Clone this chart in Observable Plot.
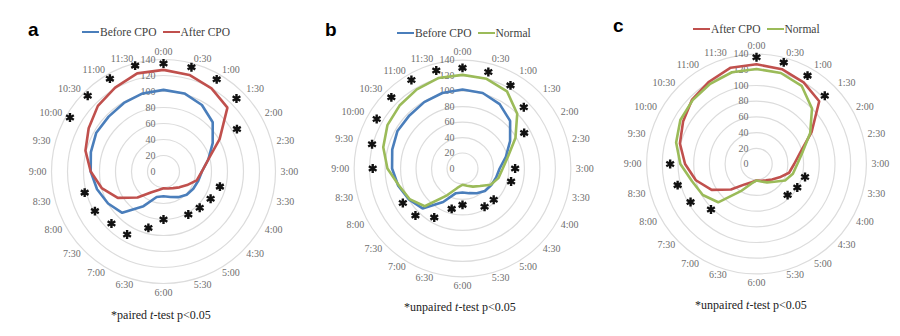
<!DOCTYPE html>
<html><head><meta charset="utf-8">
<script src="https://cdn.jsdelivr.net/npm/d3@7"></script>
<script src="https://cdn.jsdelivr.net/npm/@observablehq/plot@0.6"></script>
<style>
html,body{margin:0;padding:0;background:#fff;}
#root{position:relative;width:900px;height:336px;overflow:hidden;background:#fff;}
.panel{position:absolute;top:0;width:300px;height:336px;}
.panel svg, .panel svg text{font-family:"Liberation Serif","DejaVu Serif",serif !important;}
.letter{position:absolute;font-family:"Liberation Sans","DejaVu Sans",sans-serif;font-weight:bold;font-size:19px;color:#000;line-height:1;}
.legend{position:absolute;font-family:"Liberation Serif","DejaVu Serif",serif;font-size:11.5px;color:#404040;display:flex;align-items:center;white-space:nowrap;transform:translateY(-50%);}
.sw{display:inline-block;width:17px;height:0;border-top:2.5px solid;margin-right:1px;}
.item{display:flex;align-items:center;margin-right:6px;}
.caption{position:absolute;font-family:"Liberation Serif","DejaVu Serif",serif;font-size:12px;color:#222;transform:translate(-50%,-50%);white-space:nowrap;}
</style></head><body><div id="root"></div>
<script>
// ---- data ----
const times = ["0:00","0:30","1:00","1:30","2:00","2:30","3:00","3:30","4:00","4:30","5:00","5:30",
               "6:00","6:30","7:00","7:30","8:00","8:30","9:00","9:30","10:00","10:30","11:00","11:30"];
const beforeCPO = [102,101,96,87,71,58,48,45,43,41,37,33,31,33,50,73,80,86,91,94,97,97,99,101];
const afterCPO  = [127,125,120,113,81,58,48,43,34,28,24,22,21,24,30,46,66,80,91,101,108,116,121,127];
const normal    = [121,120,115,100,79,61,52,48,42,32,27,23,21,26,40,69,79,85,97,106,112,115,118,121];
const ringTicks = [20,40,60,80,100,120,140];
const tickLabels = [0,20,40,60,80,100,120,140];

const starTimesA  = ["0:00","0:30","1:00","1:30","2:00","3:30","4:00","4:30","5:00","6:00","6:30","7:00","7:30","8:00","8:30","10:00","10:30","11:00","11:30"];
const starValuesA = [135,135,133,129,106,73,68,64,62,60,73,91,92,99,102,135,134,134,137];
const starTimesB  = ["0:00","0:30","1:00","1:30","2:00","3:00","3:30","4:30","5:00","6:00","6:30","7:00","7:30","8:00","9:00","9:30","10:00","10:30","11:00","11:30"];
const starValuesB = [130,129,124,112,92,68,65,57,57,47,54,73,86,89,116,121,128,130,132,131];
const starTimesC  = ["0:00","0:30","1:00","1:30","3:30","4:00","4:30","7:30","8:00","8:30","9:00"];
const starValuesC = [136,134,130,123,64,60,56,82,97,104,110];

const seriesNames = ["Before CPO","After CPO","Normal"];
const seriesColors = ["#4a7ebb","#c0504d","#9bbb59"];
const seriesValues = {"Before CPO": beforeCPO, "After CPO": afterCPO, "Normal": normal};

// ---- helpers ----
const ang = t => times.indexOf(t) * 2 * Math.PI / times.length;
const px = d => d.value * Math.sin(ang(d.time));
const py = d => d.value * Math.cos(ang(d.time));
const FONT = "'Liberation Serif', 'DejaVu Serif', serif";

function radar({cx, cy, k, series, starT, starV}) {
  const D = 180;
  const lines = series.flatMap(name => seriesValues[name].map((v, i) => ({time: times[i], value: v, series: name})));
  const stars = starT.map((t, i) => ({time: t, value: starV[i]}));
  const labR = (140 * k + 5) / k;
  const spokes = times.map(t => ({time: t, value: labR}));
  const sinOf = d => Math.sin(ang(d.time));
  const common = {x: px, y: py, text: d => d.time, fill: "#6e6e6e", fontSize: 10, fontFamily: FONT};
  return Plot.plot({
    width: 300, height: 336, margin: 0,
    x: {domain: [-D, D], range: [cx - D * k, cx + D * k], axis: null},
    y: {domain: [-D, D], range: [cy + D * k, cy - D * k], axis: null},
    r: {type: "linear", domain: [0, D], range: [0, D * k]},
    color: {domain: seriesNames, range: seriesColors},
    style: {fontFamily: FONT, background: "transparent", overflow: "visible"},
    marks: [
      Plot.dot(ringTicks, {x: () => 0, y: () => 0, r: d => d, stroke: "#dcdcdc", strokeWidth: 1.2, fill: "none"}),
      Plot.text(tickLabels, {x: () => 0, y: d => d, text: d => String(d), textAnchor: "end", dx: -8, fill: "#6e6e6e", fontSize: 10, fontFamily: FONT}),
      Plot.text(spokes.filter(d => Math.abs(sinOf(d)) < 0.01 && d.time === "0:00"), {...common, textAnchor: "middle", lineAnchor: "bottom"}),
      Plot.text(spokes.filter(d => Math.abs(sinOf(d)) < 0.01 && d.time !== "0:00"), {...common, textAnchor: "middle", lineAnchor: "top"}),
      Plot.text(spokes.filter(d => sinOf(d) >= 0.01), {...common, textAnchor: "start"}),
      Plot.text(spokes.filter(d => sinOf(d) <= -0.01), {...common, textAnchor: "end"}),
      Plot.line(lines, {x: px, y: py, z: "series", stroke: "series", curve: "linear-closed", strokeWidth: 2.6, strokeLinejoin: "miter"}),
      Plot.dot(stars, {x: px, y: py, symbol: "asterisk", r: 4.2, stroke: "#111", strokeWidth: 2.4})
    ]
  });
}

const panels = [
  {left: 0,   cx: 163, cy: 171,   k: 0.80,  series: ["Before CPO","After CPO"], starT: starTimesA, starV: starValuesA,
   letter: "a", lx: 28, ly: 20, legY: 32, legX: 82, cap: ["*paired ", "t", "-test p<0.05"], capX: 161, capY: 315},
  {left: 300, cx: 162, cy: 168,   k: 0.774, series: ["Before CPO","Normal"], starT: starTimesB, starV: starValuesB,
   letter: "b", lx: 325, ly: 20, legY: 33, legX: 397, cap: ["*unpaired ", "t", "-test p<0.05"], capX: 460, capY: 307},
  {left: 600, cy: 163.5, cx: 156, k: 0.785, series: ["After CPO","Normal"], starT: starTimesC, starV: starValuesC,
   letter: "c", lx: 613, ly: 16, legY: 28.5, legX: 693, cap: ["*unpaired ", "t", "-test p<0.05"], capX: 751, capY: 305}
];

const root = document.getElementById("root");
for (const p of panels) {
  const div = document.createElement("div");
  div.className = "panel";
  div.style.left = p.left + "px";
  div.appendChild(radar(p));
  root.appendChild(div);

  const L = document.createElement("div");
  L.className = "letter";
  L.textContent = p.letter;
  L.style.left = p.lx + "px"; L.style.top = p.ly + "px";
  root.appendChild(L);

  const leg = document.createElement("div");
  leg.className = "legend";
  leg.style.left = p.legX + "px"; leg.style.top = p.legY + "px";
  for (const s of p.series) {
    const it = document.createElement("span");
    it.className = "item";
    const sw = document.createElement("span");
    sw.className = "sw";
    sw.style.borderTopColor = seriesColors[seriesNames.indexOf(s)];
    const tx = document.createElement("span");
    tx.textContent = s;
    it.appendChild(sw); it.appendChild(tx);
    leg.appendChild(it);
  }
  root.appendChild(leg);

  const cap = document.createElement("div");
  cap.className = "caption";
  cap.style.left = p.capX + "px"; cap.style.top = p.capY + "px";
  cap.append(p.cap[0]);
  const it = document.createElement("i"); it.textContent = p.cap[1];
  cap.append(it);
  cap.append(p.cap[2]);
  root.appendChild(cap);
}
</script>
</body></html>
